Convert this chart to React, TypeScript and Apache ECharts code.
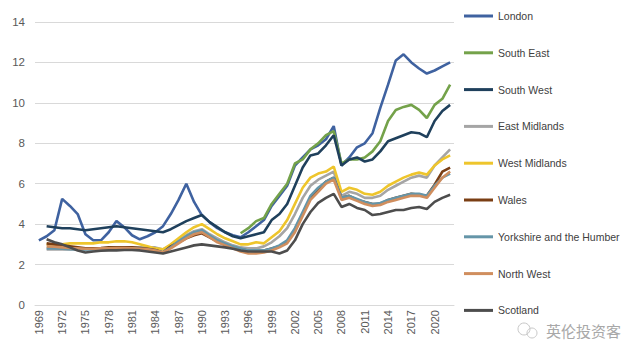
import React, { useEffect, useRef } from "react";
import * as echarts from "echarts";

const years: string[] = [];
for (let y = 1969; y <= 2022; y++) years.push(String(y));

const seriesNames = [
  "London",
  "South East",
  "South West",
  "East Midlands",
  "West Midlands",
  "Wales",
  "Yorkshire and the Humber",
  "North West",
  "Scotland",
];

const london = [
  3.2, 3.4, 3.7, 5.25, 4.9, 4.5, 3.5, 3.2, 3.2, 3.6,
  4.15, 3.85, 3.45, 3.25, 3.4, 3.6, 3.9, 4.5, 5.2, 6.0,
  5.1, 4.45, 4.1, 3.8, 3.6, 3.45, 3.35, 3.6, 3.9, 4.2,
  4.9, 5.4, 5.9, 6.9, 7.3, 7.7, 7.9, 8.2, 8.85, 6.9,
  7.3, 7.8, 8.0, 8.5, 9.75, 10.9, 12.1, 12.4, 12.0, 11.7,
  11.45, 11.6, 11.8, 12.0,
];

const southEast = [
  null, null, null, null, null, null, null, null, null, null,
  null, null, null, null, null, null, null, null, null, null,
  null, null, null, null, null, null,
  3.55, 3.8, 4.15, 4.3, 5.0, 5.5, 6.0, 7.0, 7.2, 7.7,
  8.0, 8.4, 8.6, 7.0, 7.2, 7.2, 7.3, 7.6, 8.1, 9.1,
  9.65, 9.8, 9.9, 9.65, 9.25, 9.9, 10.2, 10.9,
];

const southWest = [
  null,
  3.9, 3.85, 3.8, 3.8, 3.75, 3.7, 3.75, 3.8, 3.85, 3.9,
  3.85, 3.8, 3.75, 3.7, 3.65, 3.6, 3.75, 3.95, 4.15, 4.3,
  4.45, 4.1, 3.85, 3.6, 3.4, 3.3, 3.4, 3.5, 3.6, 4.2,
  4.5, 5.0, 5.9, 6.8, 7.4, 7.5, 7.9, 8.4, 6.9, 7.2,
  7.3, 7.1, 7.2, 7.6, 8.1, 8.25, 8.4, 8.55, 8.5, 8.3,
  9.1, 9.6, 9.9,
];

const eastMidlands = [
  null,
  2.75, 2.75, 2.75, 2.75, 2.75, 2.75, 2.78, 2.8, 2.82, 2.85,
  2.85, 2.85, 2.85, 2.85, 2.85, 2.75, 2.95, 3.2, 3.45, 3.65,
  3.75, 3.5, 3.3, 3.1, 2.95, 2.85, 2.8, 2.8, 2.9, 3.1,
  3.4, 3.8, 4.5, 5.3, 5.9, 6.2, 6.4, 6.6, 5.4, 5.6,
  5.5, 5.3, 5.3, 5.4, 5.7, 5.9, 6.1, 6.3, 6.4, 6.3,
  6.9, 7.3, 7.7,
];

const westMidlands = [
  null,
  3.0, 3.0, 3.0, 3.05, 3.05, 3.05, 3.05, 3.1, 3.1, 3.15,
  3.15, 3.1, 3.0, 2.9, 2.8, 2.75, 3.0, 3.3, 3.6, 3.85,
  4.0, 3.75, 3.5, 3.3, 3.15, 3.0, 3.0, 3.1, 3.05, 3.35,
  3.65, 4.2, 5.0, 5.8, 6.3, 6.5, 6.6, 6.85, 5.6, 5.8,
  5.7, 5.5, 5.45, 5.6, 5.9, 6.1, 6.3, 6.45, 6.55, 6.45,
  6.9, 7.2, 7.4,
];

const wales = [
  null,
  3.05, 3.0, 2.95, 2.9, 2.85, 2.8, 2.8, 2.82, 2.85, 2.85,
  2.85, 2.85, 2.82, 2.78, 2.72, 2.6, 2.9, 3.1, 3.3, 3.45,
  3.55, 3.35, 3.15, 3.0, 2.85, 2.75, 2.7, 2.65, 2.7, 2.8,
  2.9, 3.1, 3.7, 4.5, 5.3, 5.7, 6.1, 6.3, 5.3, 5.4,
  5.2, 5.1, 5.0, 5.0, 5.2, 5.3, 5.4, 5.5, 5.45, 5.4,
  5.95, 6.6, 6.8,
];

const yorkshire = [
  null,
  2.8, 2.8, 2.78, 2.76, 2.75, 2.75, 2.75, 2.77, 2.8, 2.8,
  2.8, 2.8, 2.78, 2.75, 2.7, 2.6, 2.85, 3.15, 3.4, 3.6,
  3.7, 3.45, 3.2, 3.05, 2.9, 2.8, 2.7, 2.7, 2.7, 2.8,
  2.95, 3.2, 3.8, 4.6, 5.4, 5.8, 6.1, 6.3, 5.3, 5.4,
  5.25, 5.1, 5.0, 5.05, 5.2, 5.3, 5.4, 5.5, 5.5, 5.4,
  5.9, 6.3, 6.5,
];

const northWest = [
  null,
  2.9, 2.88, 2.85, 2.82, 2.8, 2.78, 2.78, 2.8, 2.8, 2.82,
  2.82, 2.8, 2.78, 2.75, 2.7, 2.6, 2.8, 3.05, 3.3, 3.5,
  3.6, 3.35, 3.1, 2.95, 2.8, 2.65, 2.55, 2.55, 2.6, 2.7,
  2.85, 3.05, 3.6, 4.4, 5.2, 5.6, 6.0, 6.2, 5.2, 5.3,
  5.15, 5.0, 4.9, 4.95, 5.1, 5.2, 5.3, 5.4, 5.4, 5.3,
  5.8, 6.3, 6.6,
];

const scotland = [
  null,
  3.25, 3.1, 3.0, 2.85, 2.7, 2.6, 2.65, 2.68, 2.7, 2.7,
  2.72, 2.72, 2.7, 2.65, 2.6, 2.55, 2.65, 2.75, 2.85, 2.95,
  3.0, 2.95, 2.9, 2.85, 2.78, 2.7, 2.65, 2.65, 2.65, 2.65,
  2.55, 2.7, 3.2, 4.0, 4.6, 5.05, 5.3, 5.5, 4.85, 5.0,
  4.8, 4.7, 4.45, 4.5, 4.6, 4.7, 4.7, 4.8, 4.85, 4.75,
  5.1, 5.3, 5.45,
];

const seriesData = [
  london,
  southEast,
  southWest,
  eastMidlands,
  westMidlands,
  wales,
  yorkshire,
  northWest,
  scotland,
];

const seriesColors = [
  "#3f62a0",
  "#74a24a",
  "#1f405c",
  "#a5a5a5",
  "#eec52c",
  "#7a3e14",
  "#6595a8",
  "#d08e5e",
  "#4d4d4d",
];

const yTicks = { min: 0, max: 14, interval: 2 };

const FONT = "'Liberation Sans', Arial, sans-serif";

export default function App() {
  const ref = useRef<HTMLDivElement>(null);

  useEffect(() => {
    if (!ref.current) return;
    const chart = echarts.init(ref.current, null, { renderer: "svg" });
    chart.setOption({
      animation: false,
      backgroundColor: "#ffffff",
      grid: { left: 27, right: 188, top: 14, bottom: 54, containLabel: false },
      legend: {
        orient: "vertical",
        left: 451,
        top: -4,
        itemWidth: 29,
        itemHeight: 3,
        itemGap: 22.8,
        icon: "rect",
        data: seriesNames,
        textStyle: {
          fontFamily: FONT,
          fontSize: 10.5,
          color: "#404040",
          lineHeight: 14,
        },
      },
      xAxis: {
        type: "category",
        data: years,
        boundaryGap: true,
        axisLine: { show: true, lineStyle: { color: "#d9d9d9" } },
        axisTick: { show: false },
        axisLabel: {
          interval: 2,
          rotate: 90,
          margin: 5,
          fontFamily: FONT,
          fontSize: 11,
          color: "#595959",
        },
      },
      yAxis: {
        type: "value",
        min: yTicks.min,
        max: yTicks.max,
        interval: yTicks.interval,
        axisLine: { show: false },
        axisTick: { show: false },
        splitLine: { lineStyle: { color: "#d9d9d9", width: 1 } },
        axisLabel: {
          margin: 10,
          fontFamily: FONT,
          fontSize: 11.5,
          color: "#595959",
        },
      },
      series: seriesNames.map((name, i) => ({
        name,
        type: "line",
        data: seriesData[i],
        symbol: "none",
        smooth: false,
        connectNulls: false,
        lineStyle: { width: 2.6, color: seriesColors[i] },
        itemStyle: { color: seriesColors[i] },
      })),
      graphic: [
        {
          type: "circle",
          shape: { cx: 516, cy: 321, r: 6 },
          style: { fill: "none", stroke: "#c8c8c8", lineWidth: 1 },
        },
        {
          type: "circle",
          shape: { cx: 524, cy: 325, r: 5 },
          style: { fill: "none", stroke: "#c8c8c8", lineWidth: 1 },
        },
        {
          type: "text",
          x: 538,
          y: 315,
          style: {
            text: "英伦投资客",
            font: "15px 'Noto Sans CJK SC', sans-serif",
            fill: "#a8a8a8",
          },
        },
      ],
    });
    return () => chart.dispose();
  }, []);

  return <div ref={ref} style={{ width: 634, height: 351 }} />;
}
